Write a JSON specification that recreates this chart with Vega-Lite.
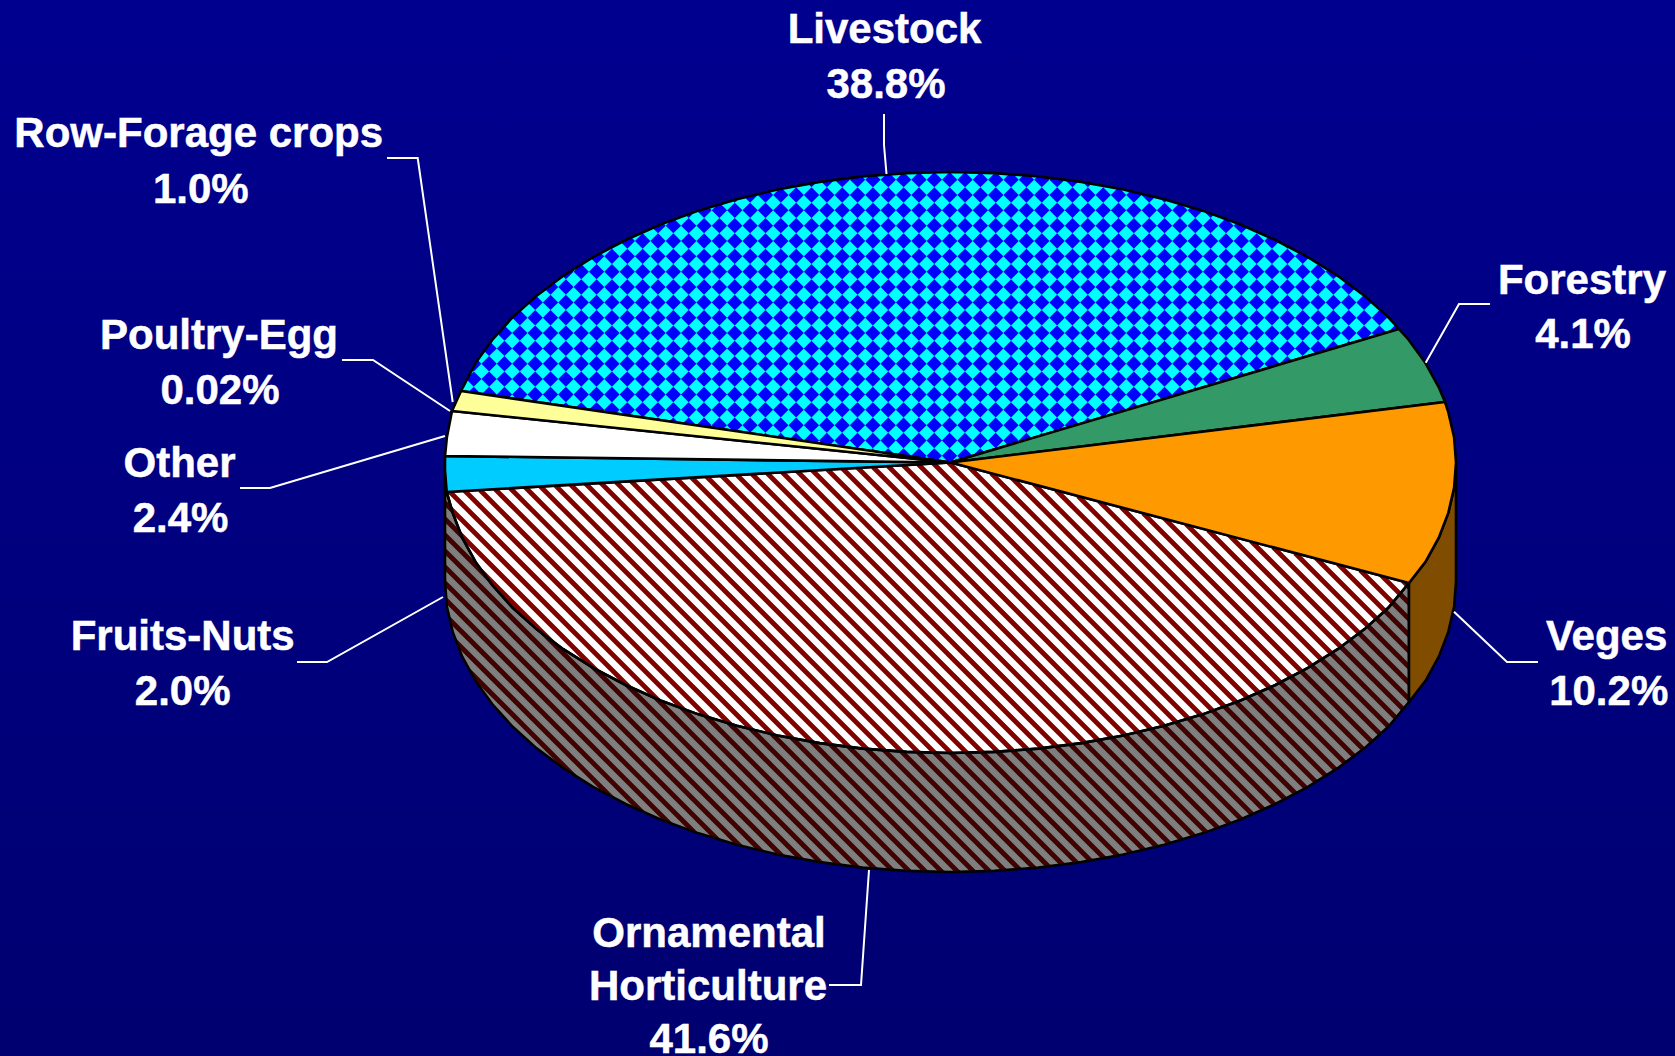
{
"$schema":"https://vega.github.io/schema/vega-lite/v6.json",
"width":1675,"height":1056,"autosize":{"type":"none"},"padding":0,
"background":"#000080",
"config":{"view":{"stroke":null}},
"datasets":{
"pie":[
{"slice":"Livestock","x":950.5,"y":462.5},{"slice":"Livestock","x":461,"y":391},{"slice":"Livestock","x":475.5,"y":363.1},{"slice":"Livestock","x":492.4,"y":339.7},{"slice":"Livestock","x":512.7,"y":317.2},{"slice":"Livestock","x":536.4,"y":295.9},{"slice":"Livestock","x":563.3,"y":275.8},{"slice":"Livestock","x":593.1,"y":257.1},{"slice":"Livestock","x":625.6,"y":240},{"slice":"Livestock","x":660.5,"y":224.5},{"slice":"Livestock","x":697.7,"y":210.9},{"slice":"Livestock","x":736.9,"y":199.2},{"slice":"Livestock","x":777.6,"y":189.5},{"slice":"Livestock","x":819.7,"y":181.9},{"slice":"Livestock","x":862.7,"y":176.4},{"slice":"Livestock","x":906.4,"y":173.1},{"slice":"Livestock","x":950.5,"y":172},{"slice":"Livestock","x":994.6,"y":173.1},{"slice":"Livestock","x":1038.3,"y":176.4},{"slice":"Livestock","x":1081.3,"y":181.9},{"slice":"Livestock","x":1123.4,"y":189.5},{"slice":"Livestock","x":1164.1,"y":199.2},{"slice":"Livestock","x":1203.3,"y":210.9},{"slice":"Livestock","x":1240.5,"y":224.5},{"slice":"Livestock","x":1275.4,"y":240},{"slice":"Livestock","x":1307.9,"y":257.1},{"slice":"Livestock","x":1337.7,"y":275.8},{"slice":"Livestock","x":1364.6,"y":295.9},{"slice":"Livestock","x":1388.3,"y":317.2},{"slice":"Livestock","x":1398.9,"y":329},{"slice":"Livestock","x":950.5,"y":462.5},
{"slice":"Forestry","x":950.5,"y":462.5},{"slice":"Forestry","x":1398.9,"y":329},{"slice":"Forestry","x":1408.6,"y":339.7},{"slice":"Forestry","x":1425.5,"y":363.1},{"slice":"Forestry","x":1438.8,"y":387.3},{"slice":"Forestry","x":1445,"y":402},{"slice":"Forestry","x":950.5,"y":462.5},
{"slice":"Veges","x":950.5,"y":462.5},{"slice":"Veges","x":1445,"y":402},{"slice":"Veges","x":1448.3,"y":412.1},{"slice":"Veges","x":1454.1,"y":437.2},{"slice":"Veges","x":1456,"y":462.5},{"slice":"Veges","x":1454.1,"y":487.8},{"slice":"Veges","x":1448.3,"y":512.9},{"slice":"Veges","x":1438.8,"y":537.7},{"slice":"Veges","x":1425.5,"y":561.9},{"slice":"Veges","x":1409,"y":583},{"slice":"Veges","x":950.5,"y":462.5},
{"slice":"VegesSide","x":1409,"y":583},{"slice":"VegesSide","x":1425.5,"y":561.9},{"slice":"VegesSide","x":1438.8,"y":537.7},{"slice":"VegesSide","x":1448.3,"y":512.9},{"slice":"VegesSide","x":1454.1,"y":487.8},{"slice":"VegesSide","x":1456,"y":462.5},{"slice":"VegesSide","x":1456,"y":581.5},{"slice":"VegesSide","x":1454.1,"y":606.8},{"slice":"VegesSide","x":1448.3,"y":631.9},{"slice":"VegesSide","x":1438.8,"y":656.7},{"slice":"VegesSide","x":1425.5,"y":680.9},{"slice":"VegesSide","x":1409,"y":702},{"slice":"VegesSide","x":1409,"y":583},
{"slice":"Ornamental","x":950.5,"y":462.5},{"slice":"Ornamental","x":1409,"y":583},{"slice":"Ornamental","x":1388.3,"y":607.8},{"slice":"Ornamental","x":1364.6,"y":629.1},{"slice":"Ornamental","x":1337.7,"y":649.2},{"slice":"Ornamental","x":1307.9,"y":667.9},{"slice":"Ornamental","x":1275.4,"y":685},{"slice":"Ornamental","x":1240.5,"y":700.5},{"slice":"Ornamental","x":1203.3,"y":714.1},{"slice":"Ornamental","x":1164.1,"y":725.8},{"slice":"Ornamental","x":1123.4,"y":735.5},{"slice":"Ornamental","x":1081.3,"y":743.1},{"slice":"Ornamental","x":1038.3,"y":748.6},{"slice":"Ornamental","x":994.6,"y":751.9},{"slice":"Ornamental","x":950.5,"y":753},{"slice":"Ornamental","x":906.4,"y":751.9},{"slice":"Ornamental","x":862.7,"y":748.6},{"slice":"Ornamental","x":819.7,"y":743.1},{"slice":"Ornamental","x":777.6,"y":735.5},{"slice":"Ornamental","x":736.9,"y":725.8},{"slice":"Ornamental","x":697.7,"y":714.1},{"slice":"Ornamental","x":660.5,"y":700.5},{"slice":"Ornamental","x":625.6,"y":685},{"slice":"Ornamental","x":593.1,"y":667.9},{"slice":"Ornamental","x":563.3,"y":649.2},{"slice":"Ornamental","x":536.4,"y":629.1},{"slice":"Ornamental","x":512.7,"y":607.8},{"slice":"Ornamental","x":492.4,"y":585.3},{"slice":"Ornamental","x":475.5,"y":561.9},{"slice":"Ornamental","x":462.2,"y":537.7},{"slice":"Ornamental","x":452.7,"y":512.9},{"slice":"Ornamental","x":446.7,"y":492},{"slice":"Ornamental","x":950.5,"y":462.5},
{"slice":"OrnamentalSide","x":1409,"y":583},{"slice":"OrnamentalSide","x":1388.3,"y":607.8},{"slice":"OrnamentalSide","x":1364.6,"y":629.1},{"slice":"OrnamentalSide","x":1337.7,"y":649.2},{"slice":"OrnamentalSide","x":1307.9,"y":667.9},{"slice":"OrnamentalSide","x":1275.4,"y":685},{"slice":"OrnamentalSide","x":1240.5,"y":700.5},{"slice":"OrnamentalSide","x":1203.3,"y":714.1},{"slice":"OrnamentalSide","x":1164.1,"y":725.8},{"slice":"OrnamentalSide","x":1123.4,"y":735.5},{"slice":"OrnamentalSide","x":1081.3,"y":743.1},{"slice":"OrnamentalSide","x":1038.3,"y":748.6},{"slice":"OrnamentalSide","x":994.6,"y":751.9},{"slice":"OrnamentalSide","x":950.5,"y":753},{"slice":"OrnamentalSide","x":906.4,"y":751.9},{"slice":"OrnamentalSide","x":862.7,"y":748.6},{"slice":"OrnamentalSide","x":819.7,"y":743.1},{"slice":"OrnamentalSide","x":777.6,"y":735.5},{"slice":"OrnamentalSide","x":736.9,"y":725.8},{"slice":"OrnamentalSide","x":697.7,"y":714.1},{"slice":"OrnamentalSide","x":660.5,"y":700.5},{"slice":"OrnamentalSide","x":625.6,"y":685},{"slice":"OrnamentalSide","x":593.1,"y":667.9},{"slice":"OrnamentalSide","x":563.3,"y":649.2},{"slice":"OrnamentalSide","x":536.4,"y":629.1},{"slice":"OrnamentalSide","x":512.7,"y":607.8},{"slice":"OrnamentalSide","x":492.4,"y":585.3},{"slice":"OrnamentalSide","x":475.5,"y":561.9},{"slice":"OrnamentalSide","x":462.2,"y":537.7},{"slice":"OrnamentalSide","x":452.7,"y":512.9},{"slice":"OrnamentalSide","x":446.7,"y":492},{"slice":"OrnamentalSide","x":445,"y":462.5},{"slice":"OrnamentalSide","x":445,"y":581.5},{"slice":"OrnamentalSide","x":446.9,"y":606.8},{"slice":"OrnamentalSide","x":452.7,"y":631.9},{"slice":"OrnamentalSide","x":462.2,"y":656.7},{"slice":"OrnamentalSide","x":475.5,"y":680.9},{"slice":"OrnamentalSide","x":492.4,"y":704.3},{"slice":"OrnamentalSide","x":512.7,"y":726.8},{"slice":"OrnamentalSide","x":536.4,"y":748.1},{"slice":"OrnamentalSide","x":563.3,"y":768.2},{"slice":"OrnamentalSide","x":593.1,"y":786.9},{"slice":"OrnamentalSide","x":625.6,"y":804},{"slice":"OrnamentalSide","x":660.5,"y":819.5},{"slice":"OrnamentalSide","x":697.7,"y":833.1},{"slice":"OrnamentalSide","x":736.9,"y":844.8},{"slice":"OrnamentalSide","x":777.6,"y":854.5},{"slice":"OrnamentalSide","x":819.7,"y":862.1},{"slice":"OrnamentalSide","x":862.7,"y":867.6},{"slice":"OrnamentalSide","x":906.4,"y":870.9},{"slice":"OrnamentalSide","x":950.5,"y":872},{"slice":"OrnamentalSide","x":994.6,"y":870.9},{"slice":"OrnamentalSide","x":1038.3,"y":867.6},{"slice":"OrnamentalSide","x":1081.3,"y":862.1},{"slice":"OrnamentalSide","x":1123.4,"y":854.5},{"slice":"OrnamentalSide","x":1164.1,"y":844.8},{"slice":"OrnamentalSide","x":1203.3,"y":833.1},{"slice":"OrnamentalSide","x":1240.5,"y":819.5},{"slice":"OrnamentalSide","x":1275.4,"y":804},{"slice":"OrnamentalSide","x":1307.9,"y":786.9},{"slice":"OrnamentalSide","x":1337.7,"y":768.2},{"slice":"OrnamentalSide","x":1364.6,"y":748.1},{"slice":"OrnamentalSide","x":1388.3,"y":726.8},{"slice":"OrnamentalSide","x":1409,"y":702},{"slice":"OrnamentalSide","x":1409,"y":583},
{"slice":"OrnamentalBase","x":950.5,"y":462.5},{"slice":"OrnamentalBase","x":1409,"y":583},{"slice":"OrnamentalBase","x":1409,"y":702},{"slice":"OrnamentalBase","x":1388.3,"y":726.8},{"slice":"OrnamentalBase","x":1364.6,"y":748.1},{"slice":"OrnamentalBase","x":1337.7,"y":768.2},{"slice":"OrnamentalBase","x":1307.9,"y":786.9},{"slice":"OrnamentalBase","x":1275.4,"y":804},{"slice":"OrnamentalBase","x":1240.5,"y":819.5},{"slice":"OrnamentalBase","x":1203.3,"y":833.1},{"slice":"OrnamentalBase","x":1164.1,"y":844.8},{"slice":"OrnamentalBase","x":1123.4,"y":854.5},{"slice":"OrnamentalBase","x":1081.3,"y":862.1},{"slice":"OrnamentalBase","x":1038.3,"y":867.6},{"slice":"OrnamentalBase","x":994.6,"y":870.9},{"slice":"OrnamentalBase","x":950.5,"y":872},{"slice":"OrnamentalBase","x":906.4,"y":870.9},{"slice":"OrnamentalBase","x":862.7,"y":867.6},{"slice":"OrnamentalBase","x":819.7,"y":862.1},{"slice":"OrnamentalBase","x":777.6,"y":854.5},{"slice":"OrnamentalBase","x":736.9,"y":844.8},{"slice":"OrnamentalBase","x":697.7,"y":833.1},{"slice":"OrnamentalBase","x":660.5,"y":819.5},{"slice":"OrnamentalBase","x":625.6,"y":804},{"slice":"OrnamentalBase","x":593.1,"y":786.9},{"slice":"OrnamentalBase","x":563.3,"y":768.2},{"slice":"OrnamentalBase","x":536.4,"y":748.1},{"slice":"OrnamentalBase","x":512.7,"y":726.8},{"slice":"OrnamentalBase","x":492.4,"y":704.3},{"slice":"OrnamentalBase","x":475.5,"y":680.9},{"slice":"OrnamentalBase","x":462.2,"y":656.7},{"slice":"OrnamentalBase","x":452.7,"y":631.9},{"slice":"OrnamentalBase","x":446.9,"y":606.8},{"slice":"OrnamentalBase","x":445,"y":581.5},{"slice":"OrnamentalBase","x":445,"y":462.5},{"slice":"OrnamentalBase","x":950.5,"y":462.5},
{"slice":"Fruits","x":950.5,"y":462.5},{"slice":"Fruits","x":446.7,"y":492},{"slice":"Fruits","x":445,"y":470},{"slice":"Fruits","x":445,"y":456},{"slice":"Fruits","x":950.5,"y":462.5},
{"slice":"Other","x":950.5,"y":462.5},{"slice":"Other","x":445,"y":456},{"slice":"Other","x":446.9,"y":437.2},{"slice":"Other","x":452,"y":411},{"slice":"Other","x":950.5,"y":462.5},
{"slice":"RowForage","x":950.5,"y":462.5},{"slice":"RowForage","x":452,"y":411},{"slice":"RowForage","x":461,"y":391},{"slice":"RowForage","x":950.5,"y":462.5},
{"slice":"Back","x":-20,"y":462.5},{"slice":"Back","x":-20,"y":-20},{"slice":"Back","x":1695,"y":-20},{"slice":"Back","x":1695,"y":1076},{"slice":"Back","x":-20,"y":1076},{"slice":"Back","x":-20,"y":462.5},{"slice":"Back","x":445,"y":462.5},{"slice":"Back","x":445,"y":581.5},{"slice":"Back","x":446.9,"y":606.8},{"slice":"Back","x":452.7,"y":631.9},{"slice":"Back","x":462.2,"y":656.7},{"slice":"Back","x":475.5,"y":680.9},{"slice":"Back","x":492.4,"y":704.3},{"slice":"Back","x":512.7,"y":726.8},{"slice":"Back","x":536.4,"y":748.1},{"slice":"Back","x":563.3,"y":768.2},{"slice":"Back","x":593.1,"y":786.9},{"slice":"Back","x":625.6,"y":804},{"slice":"Back","x":660.5,"y":819.5},{"slice":"Back","x":697.7,"y":833.1},{"slice":"Back","x":736.9,"y":844.8},{"slice":"Back","x":777.6,"y":854.5},{"slice":"Back","x":819.7,"y":862.1},{"slice":"Back","x":862.7,"y":867.6},{"slice":"Back","x":906.4,"y":870.9},{"slice":"Back","x":950.5,"y":872},{"slice":"Back","x":994.6,"y":870.9},{"slice":"Back","x":1038.3,"y":867.6},{"slice":"Back","x":1081.3,"y":862.1},{"slice":"Back","x":1123.4,"y":854.5},{"slice":"Back","x":1164.1,"y":844.8},{"slice":"Back","x":1203.3,"y":833.1},{"slice":"Back","x":1240.5,"y":819.5},{"slice":"Back","x":1275.4,"y":804},{"slice":"Back","x":1307.9,"y":786.9},{"slice":"Back","x":1337.7,"y":768.2},{"slice":"Back","x":1364.6,"y":748.1},{"slice":"Back","x":1388.3,"y":726.8},{"slice":"Back","x":1409,"y":702},{"slice":"Back","x":1425.5,"y":680.9},{"slice":"Back","x":1438.8,"y":656.7},{"slice":"Back","x":1448.3,"y":631.9},{"slice":"Back","x":1454.1,"y":606.8},{"slice":"Back","x":1456,"y":581.5},{"slice":"Back","x":1456,"y":462.5},{"slice":"Back","x":1454.1,"y":437.2},{"slice":"Back","x":1448.3,"y":412.1},{"slice":"Back","x":1438.8,"y":387.3},{"slice":"Back","x":1425.5,"y":363.1},{"slice":"Back","x":1408.6,"y":339.7},{"slice":"Back","x":1388.3,"y":317.2},{"slice":"Back","x":1364.6,"y":295.9},{"slice":"Back","x":1337.7,"y":275.8},{"slice":"Back","x":1307.9,"y":257.1},{"slice":"Back","x":1275.4,"y":240},{"slice":"Back","x":1240.5,"y":224.5},{"slice":"Back","x":1203.3,"y":210.9},{"slice":"Back","x":1164.1,"y":199.2},{"slice":"Back","x":1123.4,"y":189.5},{"slice":"Back","x":1081.3,"y":181.9},{"slice":"Back","x":1038.3,"y":176.4},{"slice":"Back","x":994.6,"y":173.1},{"slice":"Back","x":950.5,"y":172},{"slice":"Back","x":906.4,"y":173.1},{"slice":"Back","x":862.7,"y":176.4},{"slice":"Back","x":819.7,"y":181.9},{"slice":"Back","x":777.6,"y":189.5},{"slice":"Back","x":736.9,"y":199.2},{"slice":"Back","x":697.7,"y":210.9},{"slice":"Back","x":660.5,"y":224.5},{"slice":"Back","x":625.6,"y":240},{"slice":"Back","x":593.1,"y":257.1},{"slice":"Back","x":563.3,"y":275.8},{"slice":"Back","x":536.4,"y":295.9},{"slice":"Back","x":512.7,"y":317.2},{"slice":"Back","x":492.4,"y":339.7},{"slice":"Back","x":475.5,"y":363.1},{"slice":"Back","x":462.2,"y":387.3},{"slice":"Back","x":452.7,"y":412.1},{"slice":"Back","x":446.9,"y":437.2},{"slice":"Back","x":445,"y":462.5},{"slice":"Back","x":-20,"y":462.5}
],
"checks":[
{"x":193.71,"y":145.11,"x2":538.71,"y2":490.11},{"x":209.06,"y":145.11,"x2":554.06,"y2":490.11},{"x":224.41,"y":145.11,"x2":569.41,"y2":490.11},{"x":239.76,"y":145.11,"x2":584.76,"y2":490.11},{"x":255.11,"y":145.11,"x2":600.11,"y2":490.11},{"x":270.46,"y":145.11,"x2":615.46,"y2":490.11},{"x":285.81,"y":145.11,"x2":630.81,"y2":490.11},{"x":301.16,"y":145.11,"x2":646.16,"y2":490.11},{"x":316.51,"y":145.11,"x2":661.51,"y2":490.11},{"x":331.86,"y":145.11,"x2":676.86,"y2":490.11},{"x":347.21,"y":145.11,"x2":692.21,"y2":490.11},{"x":362.56,"y":145.11,"x2":707.56,"y2":490.11},{"x":377.91,"y":145.11,"x2":722.91,"y2":490.11},{"x":393.26,"y":145.11,"x2":738.26,"y2":490.11},{"x":408.61,"y":145.11,"x2":753.61,"y2":490.11},{"x":423.96,"y":145.11,"x2":768.96,"y2":490.11},{"x":439.31,"y":145.11,"x2":784.31,"y2":490.11},{"x":454.66,"y":145.11,"x2":799.66,"y2":490.11},{"x":470.01,"y":145.11,"x2":815.01,"y2":490.11},{"x":485.36,"y":145.11,"x2":830.36,"y2":490.11},{"x":500.71,"y":145.11,"x2":845.71,"y2":490.11},{"x":516.06,"y":145.11,"x2":861.06,"y2":490.11},{"x":531.41,"y":145.11,"x2":876.41,"y2":490.11},{"x":546.76,"y":145.11,"x2":891.76,"y2":490.11},{"x":562.11,"y":145.11,"x2":907.11,"y2":490.11},{"x":577.46,"y":145.11,"x2":922.46,"y2":490.11},{"x":592.81,"y":145.11,"x2":937.81,"y2":490.11},{"x":608.16,"y":145.11,"x2":953.16,"y2":490.11},{"x":623.51,"y":145.11,"x2":968.51,"y2":490.11},{"x":638.86,"y":145.11,"x2":983.86,"y2":490.11},{"x":654.21,"y":145.11,"x2":999.21,"y2":490.11},{"x":669.56,"y":145.11,"x2":1014.56,"y2":490.11},{"x":684.91,"y":145.11,"x2":1029.91,"y2":490.11},{"x":700.26,"y":145.11,"x2":1045.26,"y2":490.11},{"x":715.61,"y":145.11,"x2":1060.61,"y2":490.11},{"x":730.96,"y":145.11,"x2":1075.96,"y2":490.11},{"x":746.31,"y":145.11,"x2":1091.31,"y2":490.11},{"x":761.66,"y":145.11,"x2":1106.66,"y2":490.11},{"x":777.01,"y":145.11,"x2":1122.01,"y2":490.11},{"x":792.36,"y":145.11,"x2":1137.36,"y2":490.11},{"x":807.71,"y":145.11,"x2":1152.71,"y2":490.11},{"x":823.06,"y":145.11,"x2":1168.06,"y2":490.11},{"x":838.41,"y":145.11,"x2":1183.41,"y2":490.11},{"x":853.76,"y":145.11,"x2":1198.76,"y2":490.11},{"x":869.11,"y":145.11,"x2":1214.11,"y2":490.11},{"x":884.46,"y":145.11,"x2":1229.46,"y2":490.11},{"x":899.81,"y":145.11,"x2":1244.81,"y2":490.11},{"x":915.16,"y":145.11,"x2":1260.16,"y2":490.11},{"x":930.51,"y":145.11,"x2":1275.51,"y2":490.11},{"x":945.86,"y":145.11,"x2":1290.86,"y2":490.11},{"x":961.21,"y":145.11,"x2":1306.21,"y2":490.11},{"x":976.56,"y":145.11,"x2":1321.56,"y2":490.11},{"x":991.91,"y":145.11,"x2":1336.91,"y2":490.11},{"x":1007.26,"y":145.11,"x2":1352.26,"y2":490.11},{"x":1022.61,"y":145.11,"x2":1367.61,"y2":490.11},{"x":1037.96,"y":145.11,"x2":1382.96,"y2":490.11},{"x":1053.31,"y":145.11,"x2":1398.31,"y2":490.11},{"x":1068.66,"y":145.11,"x2":1413.66,"y2":490.11},{"x":1084.01,"y":145.11,"x2":1429.01,"y2":490.11},{"x":1099.36,"y":145.11,"x2":1444.36,"y2":490.11},{"x":1114.71,"y":145.11,"x2":1459.71,"y2":490.11},{"x":1130.06,"y":145.11,"x2":1475.06,"y2":490.11},{"x":1145.41,"y":145.11,"x2":1490.41,"y2":490.11},{"x":1160.76,"y":145.11,"x2":1505.76,"y2":490.11},{"x":1176.11,"y":145.11,"x2":1521.11,"y2":490.11},{"x":1191.46,"y":145.11,"x2":1536.46,"y2":490.11},{"x":1206.81,"y":145.11,"x2":1551.81,"y2":490.11},{"x":1222.16,"y":145.11,"x2":1567.16,"y2":490.11},{"x":1237.51,"y":145.11,"x2":1582.51,"y2":490.11},{"x":1252.86,"y":145.11,"x2":1597.86,"y2":490.11}
],
"stripes":[
{"x":283,"y":501,"x2":682,"y2":900},{"x":298,"y":500,"x2":698,"y2":900},{"x":313,"y":499,"x2":714,"y2":900},{"x":328,"y":498,"x2":730,"y2":900},{"x":344,"y":498,"x2":746,"y2":900},{"x":359,"y":497,"x2":762,"y2":900},{"x":374,"y":496,"x2":778,"y2":900},{"x":389,"y":495,"x2":794,"y2":900},{"x":404,"y":494,"x2":810,"y2":900},{"x":419,"y":493,"x2":826,"y2":900},{"x":434,"y":492,"x2":842,"y2":900},{"x":449,"y":491,"x2":858,"y2":900},{"x":464,"y":490,"x2":874,"y2":900},{"x":480,"y":490,"x2":890,"y2":900},{"x":495,"y":489,"x2":906,"y2":900},{"x":510,"y":488,"x2":922,"y2":900},{"x":525,"y":487,"x2":938,"y2":900},{"x":540,"y":486,"x2":954,"y2":900},{"x":555,"y":485,"x2":970,"y2":900},{"x":570,"y":484,"x2":986,"y2":900},{"x":585,"y":483,"x2":1002,"y2":900},{"x":600,"y":482,"x2":1018,"y2":900},{"x":616,"y":482,"x2":1034,"y2":900},{"x":631,"y":481,"x2":1050,"y2":900},{"x":646,"y":480,"x2":1066,"y2":900},{"x":661,"y":479,"x2":1082,"y2":900},{"x":676,"y":478,"x2":1098,"y2":900},{"x":691,"y":477,"x2":1114,"y2":900},{"x":706,"y":476,"x2":1130,"y2":900},{"x":721,"y":475,"x2":1146,"y2":900},{"x":737,"y":475,"x2":1162,"y2":900},{"x":752,"y":474,"x2":1178,"y2":900},{"x":767,"y":473,"x2":1194,"y2":900},{"x":782,"y":472,"x2":1210,"y2":900},{"x":797,"y":471,"x2":1226,"y2":900},{"x":812,"y":470,"x2":1242,"y2":900},{"x":827,"y":469,"x2":1258,"y2":900},{"x":842,"y":468,"x2":1274,"y2":900},{"x":857,"y":467,"x2":1290,"y2":900},{"x":873,"y":467,"x2":1306,"y2":900},{"x":888,"y":466,"x2":1322,"y2":900},{"x":903,"y":465,"x2":1338,"y2":900},{"x":918,"y":464,"x2":1354,"y2":900},{"x":933,"y":463,"x2":1370,"y2":900},{"x":948,"y":462,"x2":1386,"y2":900},{"x":969,"y":467,"x2":1402,"y2":900},{"x":991,"y":473,"x2":1418,"y2":900},{"x":1012,"y":478,"x2":1420,"y2":886},{"x":1034,"y":484,"x2":1420,"y2":870},{"x":1056,"y":490,"x2":1420,"y2":854},{"x":1078,"y":496,"x2":1420,"y2":838},{"x":1099,"y":501,"x2":1420,"y2":822},{"x":1121,"y":507,"x2":1420,"y2":806},{"x":1143,"y":513,"x2":1420,"y2":790},{"x":1164,"y":518,"x2":1420,"y2":774},{"x":1186,"y":524,"x2":1420,"y2":758},{"x":1208,"y":530,"x2":1420,"y2":742},{"x":1229,"y":535,"x2":1420,"y2":726},{"x":1251,"y":541,"x2":1420,"y2":710},{"x":1273,"y":547,"x2":1420,"y2":694},{"x":1295,"y":553,"x2":1420,"y2":678},{"x":1316,"y":558,"x2":1420,"y2":662},{"x":1338,"y":564,"x2":1420,"y2":646},{"x":1360,"y":570,"x2":1420,"y2":630},{"x":1381,"y":575,"x2":1420,"y2":614},{"x":1403,"y":581,"x2":1420,"y2":598}
],
"leaders":[
{"name":"Livestock","x":884,"y":114},{"name":"Livestock","x":884,"y":145},{"name":"Livestock","x":886.5,"y":174},
{"name":"Row-Forage","x":387,"y":158},{"name":"Row-Forage","x":417.7,"y":158},{"name":"Row-Forage","x":452.7,"y":402},
{"name":"Poultry","x":342,"y":360},{"name":"Poultry","x":373,"y":360},{"name":"Poultry","x":450,"y":411},
{"name":"Other","x":240,"y":488},{"name":"Other","x":270,"y":488},{"name":"Other","x":445,"y":436},
{"name":"Fruits","x":297,"y":662},{"name":"Fruits","x":327,"y":662},{"name":"Fruits","x":443,"y":597},
{"name":"Forestry","x":1490,"y":304},{"name":"Forestry","x":1459,"y":304},{"name":"Forestry","x":1425.7,"y":362.7},
{"name":"Veges","x":1454,"y":611.7},{"name":"Veges","x":1507,"y":662},{"name":"Veges","x":1538,"y":662},
{"name":"Ornamental","x":829,"y":985},{"name":"Ornamental","x":861,"y":985},{"name":"Ornamental","x":869,"y":870}
],
"labels":[
{"label":"Livestock","x":884.5,"y":30},{"label":"38.8%","x":886,"y":85},
{"label":"Row-Forage crops","x":198.7,"y":134},{"label":"1.0%","x":200.8,"y":190},
{"label":"Poultry-Egg","x":219,"y":336},{"label":"0.02%","x":220,"y":391},
{"label":"Other","x":179.5,"y":463.5},{"label":"2.4%","x":180.5,"y":519},
{"label":"Fruits-Nuts","x":182.7,"y":637},{"label":"2.0%","x":182.7,"y":692},
{"label":"Forestry","x":1582,"y":281},{"label":"4.1%","x":1583,"y":335},
{"label":"Veges","x":1606.6,"y":637},{"label":"10.2%","x":1608.7,"y":692},
{"label":"Ornamental","x":709,"y":934},{"label":"Horticulture","x":708,"y":987},{"label":"41.6%","x":709,"y":1040}
]
},
"encoding":{
"x":{"field":"x","type":"quantitative","scale":{"domain":[0,1675],"nice":false,"zero":false},"axis":null},
"y":{"field":"y","type":"quantitative","scale":{"domain":[1056,0],"nice":false,"zero":false},"axis":null}
},
"layer":[
{"data":{"name":"pie"},"transform":[{"filter":"datum.slice==='Livestock'"}],"mark":{"type":"line","fill":"#00FFFF","stroke":"transparent"},"encoding":{"order":{"value":null}}},
{"data":{"name":"checks"},"mark":{"type":"rule","stroke":"#0000FF","strokeWidth":10.85,"strokeDash":[10.85,10.85]},"encoding":{"x2":{"field":"x2"},"y2":{"field":"y2"}}},
{"data":{"name":"pie"},"transform":[{"filter":"datum.slice==='OrnamentalBase'"}],"mark":{"type":"line","fill":"#FFFFFF","stroke":"transparent"},"encoding":{"order":{"value":null}}},
{"data":{"name":"stripes"},"mark":{"type":"rule","stroke":"#800000","strokeWidth":4.8},"encoding":{"x2":{"field":"x2"},"y2":{"field":"y2"}}},
{"data":{"name":"pie"},"transform":[{"filter":"datum.slice==='OrnamentalSide'"}],"mark":{"type":"line","fill":"#000000","fillOpacity":0.5,"stroke":"transparent"},"encoding":{"order":{"value":null}}},
{"data":{"name":"pie"},"transform":[{"filter":"datum.slice==='Back'"}],"mark":{"type":"line","fill":{"gradient":"linear","x1":0,"y1":0,"x2":0,"y2":1,"stops":[{"offset":0,"color":"#000090"},{"offset":1,"color":"#000070"}]},"stroke":"transparent"},"encoding":{"order":{"value":null}}},
{"data":{"name":"pie"},"transform":[{"filter":"datum.slice==='OrnamentalSide'"}],"mark":{"type":"line","stroke":"#000000","strokeWidth":2.6},"encoding":{"order":{"value":null}}},
{"data":{"name":"pie"},"transform":[{"filter":"datum.slice==='Ornamental'"}],"mark":{"type":"line","stroke":"#000000","strokeWidth":2.6},"encoding":{"order":{"value":null}}},
{"data":{"name":"pie"},"transform":[{"filter":"datum.slice==='Livestock'"}],"mark":{"type":"line","stroke":"#000000","strokeWidth":2.6},"encoding":{"order":{"value":null}}},
{"data":{"name":"pie"},"transform":[{"filter":"datum.slice==='Forestry'"}],"mark":{"type":"line","fill":"#339966","stroke":"#000000","strokeWidth":2.6},"encoding":{"order":{"value":null}}},
{"data":{"name":"pie"},"transform":[{"filter":"datum.slice==='VegesSide'"}],"mark":{"type":"line","fill":"#7F4C00","stroke":"#000000","strokeWidth":2.6},"encoding":{"order":{"value":null}}},
{"data":{"name":"pie"},"transform":[{"filter":"datum.slice==='Veges'"}],"mark":{"type":"line","fill":"#FF9900","stroke":"#000000","strokeWidth":2.6},"encoding":{"order":{"value":null}}},
{"data":{"name":"pie"},"transform":[{"filter":"datum.slice==='Fruits'"}],"mark":{"type":"line","fill":"#00CCFF","stroke":"#000000","strokeWidth":2.6},"encoding":{"order":{"value":null}}},
{"data":{"name":"pie"},"transform":[{"filter":"datum.slice==='Other'"}],"mark":{"type":"line","fill":"#FFFFFF","stroke":"#000000","strokeWidth":2.6},"encoding":{"order":{"value":null}}},
{"data":{"name":"pie"},"transform":[{"filter":"datum.slice==='RowForage'"}],"mark":{"type":"line","fill":"#FFFF99","stroke":"#000000","strokeWidth":2.6},"encoding":{"order":{"value":null}}},
{"data":{"name":"leaders"},"mark":{"type":"line","stroke":"#FFFFFF","strokeWidth":2},"encoding":{"detail":{"field":"name"},"order":{"value":null}}},
{"data":{"name":"labels"},"mark":{"type":"text","font":"Liberation Sans","fontWeight":"bold","fontSize":42,"fill":"#FFFFFF","stroke":"#FFFFFF","strokeWidth":0.5,"align":"center","baseline":"middle"},"encoding":{"text":{"field":"label"}}}
]
}
